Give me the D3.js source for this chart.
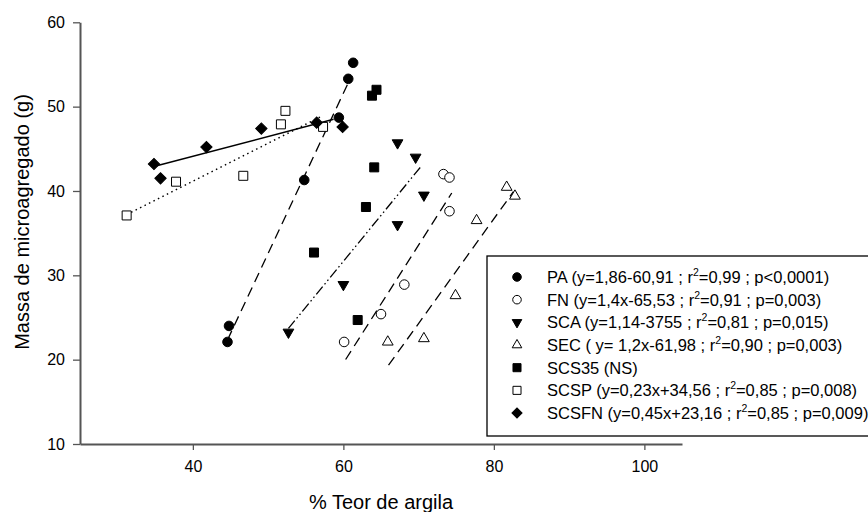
<!DOCTYPE html>
<html>
<head>
<meta charset="utf-8">
<script src="https://cdn.jsdelivr.net/npm/d3@7/dist/d3.min.js"></script>
<style>
  html, body { margin: 0; padding: 0; background: #fff; }
  svg { display: block; font-family: Arial, "Liberation Sans", sans-serif; }
</style>
</head>
<body>
<svg id="chart" width="868" height="512"></svg>
<script>
// ---------- data ----------
const xTicks = [40, 60, 80, 100];
const yTicks = [10, 20, 30, 40, 50, 60];

const paX = [61.3, 60.65, 59.4, 54.8, 44.8, 44.6];
const paY = [55.2, 53.3, 48.7, 41.3, 24.0, 22.1];

const fnX = [73.3, 74.1, 74.1, 68.1, 65.0, 60.1];
const fnY = [42.0, 41.6, 37.6, 28.9, 25.4, 22.1];

const scaX = [67.2, 69.6, 70.7, 67.2, 60.0, 52.7];
const scaY = [45.7, 44.0, 39.5, 36.0, 28.9, 23.25];

const secX = [81.7, 82.8, 77.7, 74.9, 70.7, 65.9];
const secY = [40.45, 39.4, 36.5, 27.6, 22.5, 22.1];

const scs35X = [64.4, 63.8, 64.1, 63.0, 56.1, 61.9];
const scs35Y = [52.0, 51.3, 42.8, 38.1, 32.7, 24.7];

const scspX = [31.2, 37.76, 46.7, 51.7, 52.3, 57.3];
const scspY = [37.1, 41.1, 41.8, 47.9, 49.5, 47.6];

const scsfnX = [34.83, 35.7, 41.8, 49.1, 56.45, 59.9];
const scsfnY = [43.2, 41.5, 45.2, 47.4, 48.1, 47.6];

// regression lines as drawn: [slope, intercept, xStart, xEnd]
const fitPA    = [1.90, -62.4, 44.6, 60.65];
const fitFN    = [1.40, -64.4, 60.3, 74.4];
const fitSCA   = [1.09, -33.74, 52.7, 70.4];
const fitSEC   = [1.24, -62.5, 66.0, 82.6];
const fitSCSP  = [0.45, 23.16, 31.2, 56.9];
const fitSCSFN = [0.234, 34.76, 35.2, 58.7];

const legendLabels = [
  ["PA (y=1,86-60,91 ; r", "=0,99 ; p<0,0001)"],
  ["FN (y=1,4x-65,53 ; r", "=0,91 ; p=0,003)"],
  ["SCA (y=1,14-3755 ; r", "=0,81 ; p=0,015)"],
  ["SEC ( y= 1,2x-61,98 ; r", "=0,90 ; p=0,003)"],
  ["SCS35 (NS)"],
  ["SCSP (y=0,23x+34,56 ; r", "=0,85 ; p=0,008)"],
  ["SCSFN (y=0,45x+23,16 ; r", "=0,85 ; p=0,009)"]
];

// ---------- layout ----------
const svg = d3.select("#chart");
const x = d3.scaleLinear().domain([25, 105]).range([80, 682]);
const y = d3.scaleLinear().domain([10, 60]).range([444, 22.3]);
const axisColor = "#555";

// axes
const gx = svg.append("g").attr("transform", `translate(0,${y(10)})`)
  .call(d3.axisBottom(x).tickValues(xTicks).tickSize(6).tickPadding(11).tickSizeOuter(0));
const gy = svg.append("g").attr("transform", `translate(${x(25)},0)`)
  .call(d3.axisLeft(y).tickValues(yTicks).tickSize(7).tickPadding(8).tickSizeOuter(0));
[gx, gy].forEach(g => {
  g.select(".domain").attr("stroke", axisColor).attr("stroke-width", 2);
  g.selectAll(".tick line").attr("stroke", axisColor).attr("stroke-width", 1.3);
  g.selectAll(".tick text").attr("fill", "#000").attr("font-size", 16)
    .attr("font-family", "Arial, 'Liberation Sans', sans-serif");
});

svg.append("text").attr("x", 381).attr("y", 509).attr("text-anchor", "middle")
  .attr("font-size", 20).text("% Teor de argila");
svg.append("text").attr("transform", "translate(29,222) rotate(-90)")
  .attr("text-anchor", "middle").attr("font-size", 20).text("Massa de microagregado (g)");

// ---------- regression lines ----------
function drawFit(fit, dash, width) {
  const pts = [fit[2], fit[3]].map(v => [x(v), y(fit[0] * v + fit[1])]);
  svg.append("path").attr("d", d3.line()(pts))
    .attr("fill", "none").attr("stroke", "#000").attr("stroke-width", width || 1.3)
    .attr("stroke-dasharray", dash);
}
drawFit(fitPA, "10,6");
drawFit(fitFN, "10,6");
drawFit(fitSEC, "10,6");
drawFit(fitSCA, "10,3,1.5,3,1.5,3");
drawFit(fitSCSP, "1.5,3.5", 1.5);
drawFit(fitSCSFN, null, 1.5);

// ---------- markers ----------
const shapes = {
  circle: { type: d3.symbolCircle, size: 72, rot: 0 },
  triDown: { type: d3.symbolTriangle, size: 50, rot: 180 },
  triUp: { type: d3.symbolTriangle, size: 50, rot: 0 },
  square: { type: d3.symbolSquare, size: 81, rot: 0 },
  diamond: { type: d3.symbolSquare, size: 64, rot: 45 }
};
function drawMarkers(xs, ys, shape, filled, scale) {
  const s = shapes[shape];
  const k = scale || 1;
  svg.append("g").selectAll("path").data(xs).join("path")
    .attr("d", d3.symbol().type(s.type).size(s.size * k))
    .attr("transform", (d, i) => `translate(${x(d)},${y(ys[i])}) rotate(${s.rot})`)
    .attr("fill", filled ? "#000" : "#fff")
    .attr("stroke", "#000").attr("stroke-width", 1);
}
drawMarkers(scspX, scspY, "square", false);
drawMarkers(scsfnX, scsfnY, "diamond", true);
drawMarkers(paX, paY, "circle", true);
drawMarkers(fnX, fnY, "circle", false);
drawMarkers(scaX, scaY, "triDown", true);
drawMarkers(secX, secY, "triUp", false);
drawMarkers(scs35X, scs35Y, "square", true);

// ---------- legend ----------
const legendShapes = [["circle", true], ["circle", false], ["triDown", true], ["triUp", false],
  ["square", true], ["square", false], ["diamond", true]];
svg.append("rect").attr("x", 487).attr("y", 256).attr("width", 390).attr("height", 180)
  .attr("fill", "#fff").attr("stroke", "#000").attr("stroke-width", 1.3);
legendLabels.forEach((lab, i) => {
  const cy = 277 + i * 22.67;
  const s = shapes[legendShapes[i][0]];
  svg.append("path").attr("d", d3.symbol().type(s.type).size(s.size * 0.8))
    .attr("transform", `translate(517,${cy}) rotate(${s.rot})`)
    .attr("fill", legendShapes[i][1] ? "#000" : "#fff")
    .attr("stroke", "#000").attr("stroke-width", 1);
  const t = svg.append("text").attr("x", 547).attr("y", cy + 6).attr("font-size", 16.5);
  t.append("tspan").text(lab[0]);
  if (lab.length > 1) {
    t.append("tspan").attr("font-size", 10.5).attr("dy", -7).text("2");
    t.append("tspan").attr("dy", 7).text(lab[1]);
  }
});
</script>
</body>
</html>
